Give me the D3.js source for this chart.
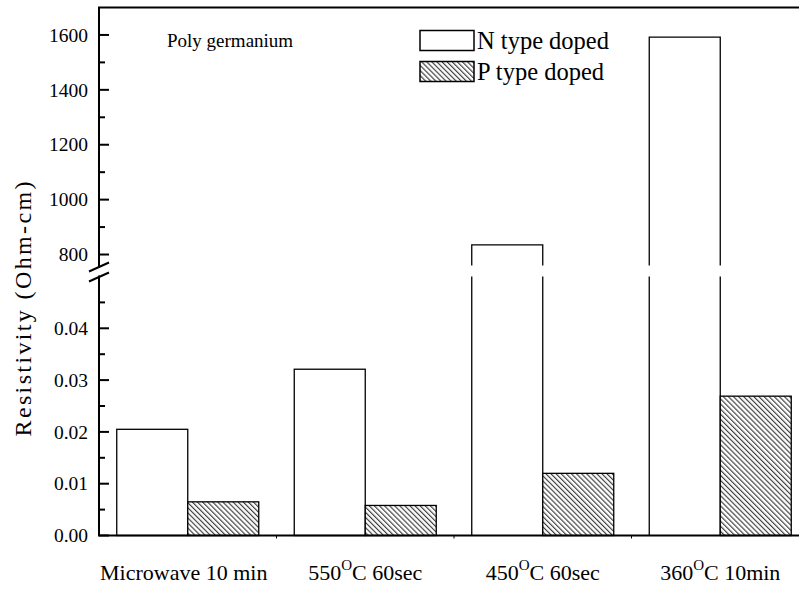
<!DOCTYPE html>
<html>
<head>
<meta charset="utf-8">
<script src="https://cdn.jsdelivr.net/npm/d3@7"></script>
<style>
    body { margin: 0; background: #fff; }
    svg { display: block; }
</style>
</head>
<body>
<script>
// chart data
const categories = ["Microwave 10 min", "550|C 60sec", "450|C 60sec", "360|C 10min"];
const nTypeValues = [0.0205, 0.0321, 835, 1592];
const pTypeValues = [0.0065, 0.0058, 0.0120, 0.0269];
const series = ["N type doped", "P type doped"];
const lowTicks = [0, 0.01, 0.02, 0.03, 0.04];
const highTicks = [800, 1000, 1200, 1400, 1600];

const width = 799, height = 590;
const axisX = 99;
const lowTop = 0.05, highBottom = 760;
const serif = "'Liberation Serif', 'Times New Roman', serif";

// two pieces of the broken y axis
const yLow = d3.scaleLinear().domain([0, lowTop]).range([535.5, 276.5]);
const yHigh = d3.scaleLinear().domain([highBottom, 1700]).range([265.5, 7.5]);

const x0 = d3.scaleBand()
    .domain(categories)
    .range([axisX, 809])
    .paddingInner(0.2)
    .paddingOuter(0.1);
const x1 = d3.scaleBand()
    .domain(series)
    .range([0, x0.bandwidth()]);

const svg = d3.select("body").append("svg")
    .attr("width", width)
    .attr("height", height)
    .style("font-family", serif);

// hatch for P type
const defs = svg.append("defs");
const pat = defs.append("pattern")
    .attr("id", "hatch")
    .attr("patternUnits", "userSpaceOnUse")
    .attr("width", 3.6)
    .attr("height", 3.6)
    .attr("patternTransform", "rotate(-45)");
pat.append("rect").attr("width", 3.6).attr("height", 3.6).attr("fill", "#fff");
pat.append("line")
    .attr("x1", 0.6).attr("y1", 0).attr("x2", 0.6).attr("y2", 3.6)
    .attr("stroke", "#333").attr("stroke-width", 1.1);

// bars
const bars = [];
categories.forEach((c, i) => {
    bars.push({cat: c, s: series[0], v: nTypeValues[i]});
    bars.push({cat: c, s: series[1], v: pTypeValues[i]});
});

const gBars = svg.append("g");
bars.forEach(d => {
    const left = x0(d.cat) + x1(d.s);
    const right = left + x1.bandwidth();
    const fill = d.s === series[0] ? "#fff" : "url(#hatch)";
    if (d.v <= lowTop) {
        gBars.append("rect")
            .attr("x", left).attr("y", yLow(d.v))
            .attr("width", right - left).attr("height", yLow(0) - yLow(d.v))
            .attr("fill", fill).attr("stroke", "#000").attr("stroke-width", 1.3);
    } else {
        // lower piece: sides only
        gBars.append("path")
            .attr("d", `M${left},${yLow(0)}V${yLow(lowTop)}M${right},${yLow(0)}V${yLow(lowTop)}`)
            .attr("fill", "none").attr("stroke", "#000").attr("stroke-width", 1.3);
        // upper piece: sides and top
        gBars.append("path")
            .attr("d", `M${left},${yHigh(highBottom)}V${yHigh(d.v)}H${right}V${yHigh(highBottom)}`)
            .attr("fill", "none").attr("stroke", "#000").attr("stroke-width", 1.3);
    }
});

// y axis pieces, labels only (ticks drawn inward below)
const axLow = svg.append("g").attr("transform", `translate(${axisX},0)`);
axLow.call(d3.axisLeft(yLow).tickValues(lowTicks).tickSize(0).tickFormat(d3.format(".2f")).tickPadding(11));
const axHigh = svg.append("g").attr("transform", `translate(${axisX},0)`);
axHigh.call(d3.axisLeft(yHigh).tickValues(highTicks).tickSize(0).tickFormat(d3.format("d")).tickPadding(11));
svg.selectAll(".domain").remove();
axLow.attr("font-family", null).attr("font-size", null);
axHigh.attr("font-family", null).attr("font-size", null);
svg.selectAll(".tick text")
    .style("font-family", serif)
    .style("font-size", "19.5px");

const minorLow = d3.range(0.005, 0.046, 0.01);
const minorHigh = d3.range(900, 1600, 200);
const tickG = svg.append("g").attr("stroke", "#000").attr("stroke-width", 2);
lowTicks.forEach(t => tickG.append("line").attr("x1", axisX).attr("x2", axisX + 10).attr("y1", yLow(t)).attr("y2", yLow(t)));
highTicks.forEach(t => tickG.append("line").attr("x1", axisX).attr("x2", axisX + 10).attr("y1", yHigh(t)).attr("y2", yHigh(t)));
minorLow.forEach(t => tickG.append("line").attr("x1", axisX).attr("x2", axisX + 6).attr("y1", yLow(t)).attr("y2", yLow(t)));
minorHigh.forEach(t => tickG.append("line").attr("x1", axisX).attr("x2", axisX + 6).attr("y1", yHigh(t)).attr("y2", yHigh(t)));

// axis lines and frame
const frame = svg.append("g").attr("stroke", "#000").attr("stroke-width", 2).attr("fill", "none");
frame.append("line").attr("x1", axisX).attr("x2", axisX).attr("y1", yHigh(1700)).attr("y2", yHigh(highBottom) + 1);
frame.append("line").attr("x1", axisX).attr("x2", axisX).attr("y1", yLow(lowTop) - 1).attr("y2", yLow(0));
frame.append("line").attr("x1", axisX - 1).attr("x2", width).attr("y1", yHigh(1700)).attr("y2", yHigh(1700));
frame.append("line").attr("x1", axisX - 1).attr("x2", width).attr("y1", yLow(0)).attr("y2", yLow(0));
// break marks
[yHigh(highBottom) + 1.5, yLow(lowTop) + 0.5].forEach(y => {
    frame.append("line")
        .attr("x1", axisX - 10).attr("y1", y + 4.5)
        .attr("x2", axisX + 10).attr("y2", y - 4.5);
});

// small x ticks between groups
categories.slice(1).forEach(c => {
    const xb = x0(c) - x0.step() * x0.paddingInner() / 2;
    svg.append("line").attr("x1", xb).attr("x2", xb).attr("y1", yLow(0)).attr("y2", yLow(0) + 3)
        .attr("stroke", "#000").attr("stroke-width", 1);
});

// category labels, "|" marks the superscript O
categories.forEach((c, i) => {
    const t = svg.append("text")
        .attr("x", x0(c) + x0.bandwidth() / 2 - (i === 0 ? 4 : 0))
        .attr("y", 580)
        .attr("text-anchor", "middle")
        .style("font-family", serif)
        .style("font-size", "22px");
    const parts = c.split("|");
    if (parts.length === 1) {
        t.text(c);
    } else {
        t.append("tspan").text(parts[0]);
        t.append("tspan").attr("dy", -10).style("font-size", "15px").text("O");
        t.append("tspan").attr("dy", 10).text(parts[1]);
    }
});

// y title
svg.append("text")
    .attr("transform", "translate(31,309) rotate(-90)")
    .attr("text-anchor", "middle")
    .attr("textLength", 255)
    .attr("lengthAdjust", "spacing")
    .style("font-family", serif)
    .style("font-size", "24px")
    .text("Resistivity (Ohm-cm)");

// annotation
svg.append("text")
    .attr("x", 167).attr("y", 47)
    .style("font-family", serif)
    .style("font-size", "19px")
    .text("Poly germanium");

// legend
const legend = svg.append("g").attr("transform", "translate(420,30.5)");
series.forEach((s, i) => {
    legend.append("rect")
        .attr("x", 0).attr("y", i * 31)
        .attr("width", 54).attr("height", 20)
        .attr("fill", i === 0 ? "#fff" : "url(#hatch)")
        .attr("stroke", "#000").attr("stroke-width", 1.5);
    legend.append("text")
        .attr("x", 57).attr("y", i * 31 + 18)
        .style("font-family", serif)
        .style("font-size", "24.5px")
        .text(s);
});
</script>
</body>
</html>
